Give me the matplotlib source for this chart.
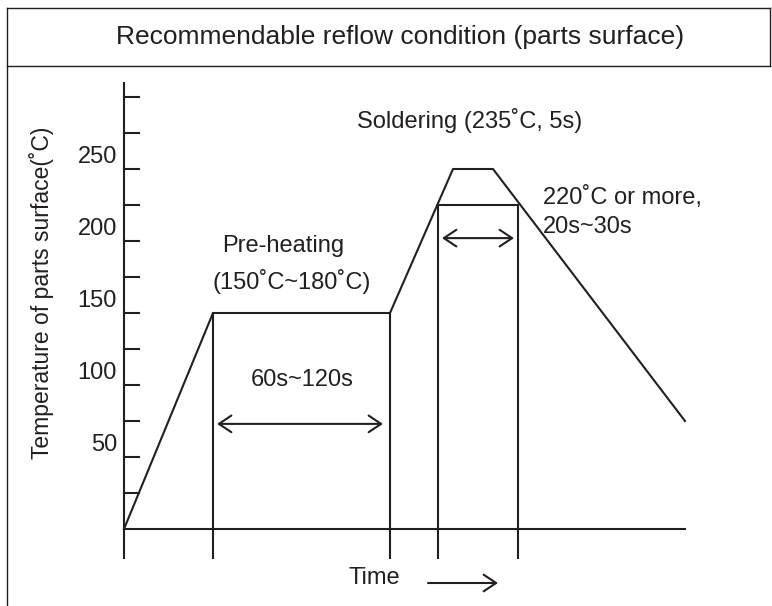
import matplotlib.pyplot as plt
from matplotlib.lines import Line2D

plt.rcParams['font.family'] = ['Liberation Sans', 'DejaVu Sans']

# profile of the reflow curve (schematic time units, temperature in degC as drawn)
profile_time = [0, 89, 266, 329, 369, 561]
profile_temp = [0, 150, 150, 250, 250, 75]

# marker lines down to below the time axis
mark_time = [89, 266, 314, 394]
mark_top = [150, 150, 225, 225]
axis_bottom = -20
axis_top = 310
time_end = 561

# 220 degC level line
hold_temp = 225
hold_start, hold_end = 314, 394

tick_values = list(range(25, 301, 25))
tick_labels = [50, 100, 150, 200, 250]

col = '#231f20'
lw = 1.5
fs = 17

fig = plt.figure(figsize=(7.72, 6.06), dpi=100)
ax = fig.add_axes([0, 0, 1, 1])
ax.set_xlim(-124, 648)
ax.set_ylim(-53.47, 367.36)
ax.axis('off')

# frame around the whole figure
fig.add_artist(Line2D([7/772, 7/772], [0, 1 - 8/606], transform=fig.transFigure, color=col, lw=1.0))
fig.add_artist(Line2D([7/772, 770/772], [1 - 8/606, 1 - 8/606], transform=fig.transFigure, color=col, lw=1.0))
fig.add_artist(Line2D([7/772, 770/772], [1 - 66/606, 1 - 66/606], transform=fig.transFigure, color=col, lw=1.0))
fig.add_artist(Line2D([770/772, 770/772], [1 - 8/606, 1 - 66/606], transform=fig.transFigure, color=col, lw=1.0))
fig.text(400/772, 1 - 44/606, 'Recommendable reflow condition (parts surface)',
         ha='center', va='baseline', fontsize=19, color=col)

# axes lines
ax.plot([0, 0], [axis_bottom, axis_top], color=col, lw=lw)
ax.plot([0, time_end], [0, 0], color=col, lw=lw)
for v in tick_values:
    ax.plot([0, 15], [v, v], color=col, lw=lw)
for v in tick_labels:
    ax.text(-7, v + 8, str(v), ha='right', va='center', fontsize=fs, color=col)

ax.text(-82, 164, 'Temperature of parts surface(˚C)', rotation=90,
        ha='center', va='center', fontsize=16.5, color=col)

# profile
ax.plot(profile_time, profile_temp, color=col, lw=lw)

# vertical markers
for t, top in zip(mark_time, mark_top):
    ax.plot([t, t], [axis_bottom, top], color=col, lw=lw)
ax.plot([hold_start, hold_end], [hold_temp, hold_temp], color=col, lw=lw)

# arrows
arrow = dict(arrowstyle='<->,head_length=0.6,head_width=0.4', color=col, lw=lw,
             mutation_scale=15, shrinkA=0, shrinkB=0)
ax.annotate('', xy=(93, 73), xytext=(259, 73), arrowprops=arrow)
ax.annotate('', xy=(318, 202), xytext=(390, 202), arrowprops=arrow)
ax.annotate('', xy=(374, -37.5), xytext=(304, -37.5),
            arrowprops=dict(arrowstyle='->,head_length=0.6,head_width=0.4', color=col, lw=lw,
                            mutation_scale=15, shrinkA=0, shrinkB=0))

# labels
ax.text(233, 284, 'Soldering (235˚C, 5s)', ha='left', va='center', fontsize=fs, color=col)
ax.text(419, 230, '220˚C or more,', ha='left', va='center', fontsize=fs, color=col)
ax.text(419, 210, '20s~30s', ha='left', va='center', fontsize=fs, color=col)
ax.text(159, 196.5, 'Pre-heating', ha='center', va='center', fontsize=fs, color=col)
ax.text(168, 172, '(150˚C~180˚C)', ha='center', va='center', fontsize=fs, color=col)
ax.text(178, 103.5, '60s~120s', ha='center', va='center', fontsize=fs, color=col)
ax.text(250, -34, 'Time', ha='center', va='center', fontsize=fs, color=col)

fig.savefig('out.png', dpi=100)
